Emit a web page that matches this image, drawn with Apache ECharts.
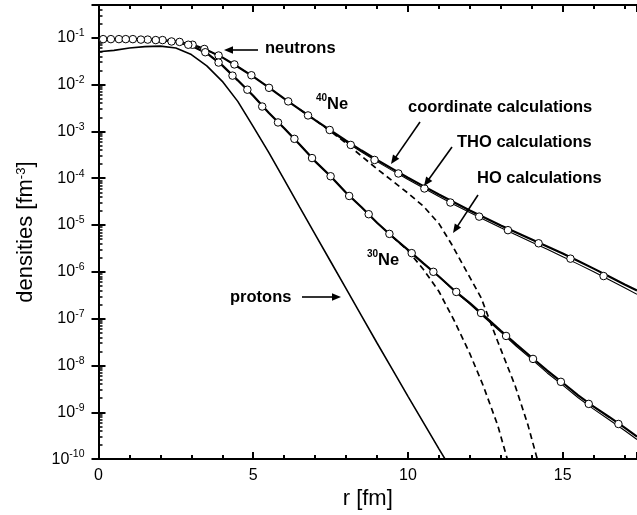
<!DOCTYPE html>
<html><head><meta charset="utf-8">
<script src="https://cdn.jsdelivr.net/npm/echarts@6/dist/echarts.min.js"></script>
<style>html,body{margin:0;padding:0;background:#fff}#c{width:637px;height:515px}</style>
</head><body><div id="c"></div>
<script>
// ---- data (r in fm, densities in fm^-3) ----
const rProtons = [0,0.5,1,1.5,2,2.5,3,3.5,4,4.5,5,5.5,6,6.5,7,7.5,8,8.5,9,9.5,10,10.5,11,11.3];
const protons  = [5.01e-2,5.37e-2,6.03e-2,6.46e-2,6.61e-2,6.03e-2,4.37e-2,2.51e-2,1.17e-2,4.37e-3,1.26e-3,3.55e-4,9.33e-5,2.40e-5,6.31e-6,1.66e-6,4.37e-7,1.15e-7,3.02e-8,8.13e-9,2.19e-9,6.03e-10,1.66e-10,7.76e-11];

const rGrid = [0,0.5,1,1.5,2,2.5,3,3.5,4,4.5,5,5.5,6,6.5,7,7.5,8,8.5,9,9.5,10,10.5,11,11.5,12,12.5,13,13.5,14,14.5,15,15.5,16,16.5,17,17.4];
const ne40Coord = [9.33e-2,9.33e-2,9.33e-2,9.12e-2,8.91e-2,8.32e-2,7.24e-2,5.50e-2,3.80e-2,2.40e-2,1.48e-2,8.71e-3,5.01e-3,2.95e-3,1.74e-3,1.05e-3,6.31e-4,3.89e-4,2.45e-4,1.58e-4,1.02e-4,6.76e-5,4.47e-5,3.02e-5,2.04e-5,1.41e-5,9.77e-6,6.92e-6,4.90e-6,3.47e-6,2.45e-6,1.70e-6,1.17e-6,7.94e-7,5.37e-7,3.98e-7];
const ne40THO   = [9.33e-2,9.33e-2,9.33e-2,9.12e-2,8.91e-2,8.32e-2,7.24e-2,5.50e-2,3.80e-2,2.40e-2,1.48e-2,8.71e-3,5.01e-3,2.95e-3,1.74e-3,1.00e-3,5.89e-4,3.63e-4,2.26e-4,1.45e-4,9.33e-5,6.17e-5,4.07e-5,2.72e-5,1.84e-5,1.26e-5,8.71e-6,6.10e-6,4.27e-6,3.02e-6,2.11e-6,1.46e-6,1.00e-6,6.76e-7,4.57e-7,3.31e-7];
const ne30Coord = [9.33e-2,9.33e-2,9.33e-2,9.12e-2,8.91e-2,8.13e-2,6.76e-2,4.68e-2,2.57e-2,1.23e-2,5.75e-3,2.51e-3,1.17e-3,5.25e-4,2.29e-4,1.10e-4,4.90e-5,2.40e-5,1.12e-5,5.62e-6,2.95e-6,1.51e-6,7.94e-7,3.98e-7,2.14e-7,1.10e-7,5.50e-8,2.82e-8,1.48e-8,7.76e-9,4.27e-9,2.29e-9,1.32e-9,7.94e-10,4.68e-10,3.02e-10];
const ne30THO   = [9.33e-2,9.33e-2,9.33e-2,9.12e-2,8.91e-2,8.13e-2,6.76e-2,4.68e-2,2.57e-2,1.23e-2,5.75e-3,2.51e-3,1.17e-3,5.25e-4,2.29e-4,1.10e-4,4.90e-5,2.40e-5,1.12e-5,5.62e-6,2.95e-6,1.51e-6,7.94e-7,3.89e-7,2.04e-7,1.02e-7,5.13e-8,2.57e-8,1.35e-8,6.92e-9,3.80e-9,2.04e-9,1.17e-9,6.92e-10,4.07e-10,2.63e-10];

const rNe40HO = [6.5,7,7.5,8,8.5,9,9.5,10,10.5,11,11.4,11.7,12,12.36,12.9,13.46,13.88,14.14,14.22];
const ne40HO  = [2.95e-3,1.74e-3,1.00e-3,5.62e-4,2.95e-4,1.58e-4,8.71e-5,4.79e-5,2.51e-5,1.07e-5,3.98e-6,1.74e-6,7.59e-7,2.82e-7,3.24e-8,3.72e-9,5.25e-10,1.23e-10,7.94e-11];
const rNe30HO = [9.5,10,10.5,11,11.5,12,12.43,12.9,13.17,13.25];
const ne30HO  = [5.62e-6,2.82e-6,1.12e-6,3.80e-7,8.91e-8,1.78e-8,3.72e-9,5.25e-10,1.23e-10,8.32e-11];

const rNe40Dots = [0.15,0.66,1.11,1.59,2.07,2.62,3.04,3.42,3.88,4.39,4.94,5.51,6.13,6.77,7.47,8.15,8.92,9.69,10.53,11.37,12.3,13.23,14.22,15.25,16.32];
const ne40Dots  = [9.33e-2,9.33e-2,9.33e-2,9.12e-2,8.91e-2,8.13e-2,7.08e-2,5.75e-2,4.17e-2,2.69e-2,1.58e-2,8.51e-3,4.37e-3,2.19e-3,1.07e-3,5.13e-4,2.45e-4,1.26e-4,6.03e-5,3.02e-5,1.51e-5,7.76e-6,4.07e-6,1.91e-6,8.13e-7];
const rNe30Dots = [0.40,0.88,1.37,1.85,2.36,2.90,3.45,3.88,4.33,4.81,5.29,5.80,6.33,6.90,7.50,8.10,8.73,9.40,10.12,10.82,11.56,12.36,13.17,14.04,14.94,15.84,16.80];
const ne30Dots  = [9.33e-2,9.33e-2,9.12e-2,8.91e-2,8.32e-2,7.08e-2,4.90e-2,2.95e-2,1.55e-2,7.76e-3,3.39e-3,1.55e-3,6.92e-4,2.69e-4,1.10e-4,4.17e-5,1.70e-5,6.46e-6,2.51e-6,1.00e-6,3.72e-7,1.32e-7,4.27e-8,1.38e-8,4.47e-9,1.51e-9,5.62e-10];

const xTicks = [0,5,10,15];

// ---- chart ----
const FONT = 'Liberation Sans, Arial, Helvetica, sans-serif';
const pairs = (xs, ys) => xs.map((x, i) => [x, ys[i]]);
const chart = echarts.init(document.getElementById('c'));

function xAxisDef(pos) {
  return {
    type: 'value', position: pos, min: 0, max: 17.4, interval: 5,
    axisLine: {show: true, lineStyle: {color: '#000', width: 2}},
    axisTick: {show: true, inside: true, length: 7, lineStyle: {color: '#000', width: 2}},
    minorTick: {show: true, splitNumber: 5, length: 4, lineStyle: {color: '#000', width: 2}},
    splitLine: {show: false}
  };
}
function yAxisDef(pos) {
  return {
    type: 'log', position: pos, min: 1e-10, max: 0.5,
    axisLine: {show: true, lineStyle: {color: '#000', width: 2}},
    axisTick: {show: true, inside: true, length: 7, lineStyle: {color: '#000', width: 2}},
    minorTick: {show: pos === 'left', splitNumber: 9, length: 4, lineStyle: {color: '#000', width: 1.5}},
    splitLine: {show: false}
  };
}

const xBottom = xAxisDef('bottom');
xBottom.axisLabel = {show: true, color: '#000', fontSize: 16, fontFamily: FONT, margin: 8, showMaxLabel: false,
  formatter: v => xTicks.indexOf(v) >= 0 ? String(v) : ''};
xBottom.name = 'r [fm]';
xBottom.nameLocation = 'middle';
xBottom.nameGap = 21;
xBottom.nameTextStyle = {color: '#000', fontSize: 22, fontFamily: FONT};
const xTop = xAxisDef('top');
xTop.axisLabel = {show: false};

const yLeft = yAxisDef('left');
yLeft.axisLabel = {show: true, color: '#000', fontFamily: FONT, margin: 14, showMaxLabel: false,
  formatter: v => '{b|10}{s|' + Math.round(Math.log10(v)) + '}',
  rich: {b: {fontSize: 16, fontFamily: FONT, color: '#000', lineHeight: 20},
         s: {fontSize: 10.5, fontFamily: FONT, color: '#000', verticalAlign: 'top', lineHeight: 10}}};
yLeft.name = 'densities [fm{s|-3}]';
yLeft.nameLocation = 'middle';
yLeft.nameGap = 62;
yLeft.nameTextStyle = {color: '#000', fontSize: 22, fontFamily: FONT,
  rich: {s: {fontSize: 13, fontFamily: FONT, color: '#000', verticalAlign: 'top', lineHeight: 12}}};
const yRight = yAxisDef('right');
yRight.axisLabel = {show: false};

const option = {
  animation: false,
  backgroundColor: '#fff',
  grid: {left: 98.5, right: -3, top: 5, bottom: 54},
  xAxis: [xBottom, xTop],
  yAxis: [yLeft, yRight],
  series: [
    {name: 'HO 40Ne', type: 'line', data: pairs(rNe40HO, ne40HO), symbol: 'none',
      lineStyle: {color: '#000', width: 1.7, type: [6, 4]}},
    {name: 'HO 30Ne', type: 'line', data: pairs(rNe30HO, ne30HO), symbol: 'none',
      lineStyle: {color: '#000', width: 1.7, type: [6, 4]}},
    {name: 'protons', type: 'line', data: pairs(rProtons, protons), symbol: 'none',
      lineStyle: {color: '#000', width: 1.6}},
    {name: 'THO 40Ne', type: 'line', data: pairs(rGrid, ne40THO), symbol: 'none',
      lineStyle: {color: '#000', width: 1.1}},
    {name: 'coord 40Ne', type: 'line', data: pairs(rGrid, ne40Coord), symbol: 'none',
      lineStyle: {color: '#000', width: 2.2}},
    {name: 'THO 30Ne', type: 'line', data: pairs(rGrid, ne30THO), symbol: 'none',
      lineStyle: {color: '#000', width: 1.1}},
    {name: 'coord 30Ne', type: 'line', data: pairs(rGrid, ne30Coord), symbol: 'none',
      lineStyle: {color: '#000', width: 2.2}},
    {name: 'dots 40Ne', type: 'scatter', data: pairs(rNe40Dots, ne40Dots), symbol: 'circle', symbolSize: 7.5, z: 5,
      itemStyle: {color: '#fff', opacity: 1, borderColor: '#000', borderWidth: 1}},
    {name: 'dots 30Ne', type: 'scatter', data: pairs(rNe30Dots, ne30Dots), symbol: 'circle', symbolSize: 7.5, z: 5,
      itemStyle: {color: '#fff', opacity: 1, borderColor: '#000', borderWidth: 1}}
  ]
};
chart.setOption(option);

// ---- annotations ----
const BOLD = 'bold 16.5px ' + FONT;
function label(text, x, y) {
  return {type: 'text', z: 100, style: {text: text, x: x, y: y, font: BOLD, fill: '#000', verticalAlign: 'middle', align: 'left'}};
}
function supLabel(sup, main, x, y) {
  return {type: 'text', z: 100, style: {text: '{s|' + sup + '}{m|' + main + '}', x: x, y: y, verticalAlign: 'middle', align: 'left',
    rich: {s: {font: 'bold 10px ' + FONT, fill: '#000', verticalAlign: 'top', lineHeight: 10},
           m: {font: BOLD, fill: '#000', lineHeight: 22}}}};
}
function arrow(x1, y1, x2, y2) {
  const dx = x2 - x1, dy = y2 - y1, L = Math.hypot(dx, dy), ux = dx / L, uy = dy / L;
  const hl = 9, hw = 3.8;
  const bx = x2 - ux * hl, by = y2 - uy * hl;
  return [
    {type: 'line', z: 100, shape: {x1: x1, y1: y1, x2: bx + ux * 1, y2: by + uy * 1}, style: {stroke: '#000', lineWidth: 1.6}},
    {type: 'polygon', z: 100, shape: {points: [[x2, y2], [bx - uy * hw, by + ux * hw], [bx + uy * hw, by - ux * hw]]}, style: {fill: '#000'}}
  ];
}
const graphics = [
  label('neutrons', 265, 48),
  supLabel('40', 'Ne', 316, 104),
  label('coordinate calculations', 408, 107),
  label('THO calculations', 457, 142),
  label('HO calculations', 477, 178),
  supLabel('30', 'Ne', 367, 260),
  label('protons', 230, 297)
].concat(
  arrow(258, 50, 224, 50),
  arrow(420, 122, 391, 164),
  arrow(452, 147, 424, 186),
  arrow(478, 195, 453, 233),
  arrow(302, 297, 341, 297)
);
chart.setOption({graphic: graphics});
</script>
</body></html>
